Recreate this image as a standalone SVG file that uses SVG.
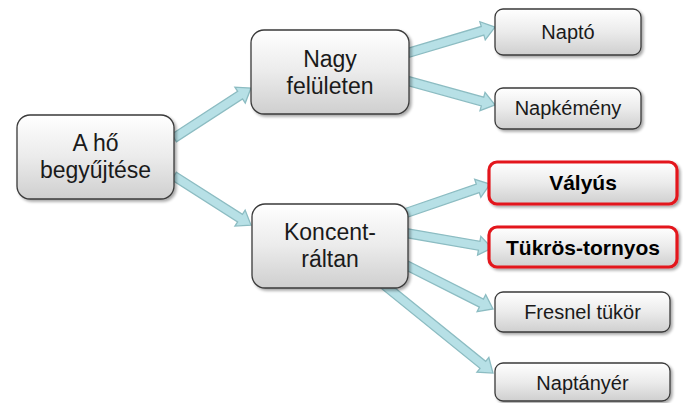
<svg xmlns="http://www.w3.org/2000/svg" width="683" height="403" viewBox="0 0 683 403">
<defs>
<linearGradient id="g" x1="0" y1="0" x2="0" y2="1">
<stop offset="0" stop-color="#ffffff"/>
<stop offset="0.5" stop-color="#ebebeb"/>
<stop offset="1" stop-color="#cfcfcf"/>
</linearGradient>
<filter id="sh" x="-10%" y="-10%" width="130%" height="140%">
<feGaussianBlur in="SourceAlpha" stdDeviation="1.5"/>
<feOffset dx="1.5" dy="2" result="b"/>
<feComponentTransfer><feFuncA type="linear" slope="0.35"/></feComponentTransfer>
<feMerge><feMergeNode/><feMergeNode in="SourceGraphic"/></feMerge>
</filter>
</defs>
<style>
.box{fill:url(#g);stroke:#3a3a3a;stroke-width:1.3;filter:url(#sh)}
.hl{fill:url(#g);stroke:#e3191f;stroke-width:3.2;filter:url(#sh)}
.arr{fill:#b7e0e6;stroke:#8cbcc2;stroke-width:1.3;stroke-linejoin:miter}
.big{font-family:"Liberation Sans",Arial,sans-serif;font-size:23px;fill:#1a1a1a;text-anchor:middle}
.sm{font-family:"Liberation Sans",Arial,sans-serif;font-size:20px;fill:#1a1a1a;text-anchor:middle}
.b{font-weight:bold;font-size:21px;fill:#000}
</style>
<rect width="683" height="403" fill="#ffffff"/>
<g id="connectors">
<polygon class="arr" transform="translate(174,138) rotate(-33)" points="0,-4.5 78.8,-4.5 78.8,-9.5 91.8,0 78.8,9.5 78.8,4.5 0,4.5"/>
<polygon class="arr" transform="translate(174,176) rotate(32.5)" points="0,-4.5 78.3,-4.5 78.3,-9.5 91.3,0 78.3,9.5 78.3,4.5 0,4.5"/>
<polygon class="arr" transform="translate(408,53) rotate(-16.6)" points="0,-4.5 77.8,-4.5 77.8,-9.5 90.8,0 77.8,9.5 77.8,4.5 0,4.5"/>
<polygon class="arr" transform="translate(408,81) rotate(15.4)" points="0,-4.5 77.3,-4.5 77.3,-9.5 90.3,0 77.3,9.5 77.3,4.5 0,4.5"/>
<polygon class="arr" transform="translate(406,213) rotate(-19)" points="0,-4.5 75.9,-4.5 75.9,-9.5 88.9,0 75.9,9.5 75.9,4.5 0,4.5"/>
<polygon class="arr" transform="translate(406,233) rotate(9.9)" points="0,-4.5 74.3,-4.5 74.3,-9.5 87.3,0 74.3,9.5 74.3,4.5 0,4.5"/>
<polygon class="arr" transform="translate(400,262) rotate(26.8)" points="0,-4.5 91.2,-4.5 91.2,-9.5 104.2,0 91.2,9.5 91.2,4.5 0,4.5"/>
<polygon class="arr" transform="translate(383,284) rotate(39)" points="0,-4.5 128.5,-4.5 128.5,-9.5 141.5,0 128.5,9.5 128.5,4.5 0,4.5"/>
</g>
<g id="node-hobegyujtese">
<rect class="box" x="17" y="115" width="157" height="84" rx="13"/>
<text class="big" x="95.5" y="151">A hő</text>
<text class="big" x="95.5" y="178">begyűjtése</text>
</g>
<g id="node-nagy">
<rect class="box" x="251" y="30" width="158" height="84" rx="13"/>
<text class="big" x="330" y="67">Nagy</text>
<text class="big" x="330" y="94">felületen</text>
</g>
<g id="node-koncent">
<rect class="box" x="252" y="204" width="156" height="84" rx="13"/>
<text class="big" x="330" y="240">Koncent-</text>
<text class="big" x="330" y="267">ráltan</text>
</g>
<g id="node-napto">
<rect class="box" x="495" y="9" width="146" height="46" rx="8"/>
<text class="sm" x="568" y="39">Naptó</text>
</g>
<g id="node-napkemeny">
<rect class="box" x="495" y="88" width="146" height="41" rx="8"/>
<text class="sm" x="568" y="115">Napkémény</text>
</g>
<g id="node-valyus">
<rect class="hl" x="489" y="162" width="188" height="42" rx="8"/>
<text class="sm b" x="583" y="190">Vályús</text>
</g>
<g id="node-tukros">
<rect class="hl" x="489" y="227" width="188" height="40" rx="8"/>
<text class="sm b" x="583" y="255">Tükrös-tornyos</text>
</g>
<g id="node-fresnel">
<rect class="box" x="495" y="292" width="175" height="40" rx="8"/>
<text class="sm" x="582.5" y="319">Fresnel tükör</text>
</g>
<g id="node-naptanyer">
<rect class="box" x="495" y="363" width="175" height="38" rx="8"/>
<text class="sm" x="582.5" y="390">Naptányér</text>
</g>
</svg>
